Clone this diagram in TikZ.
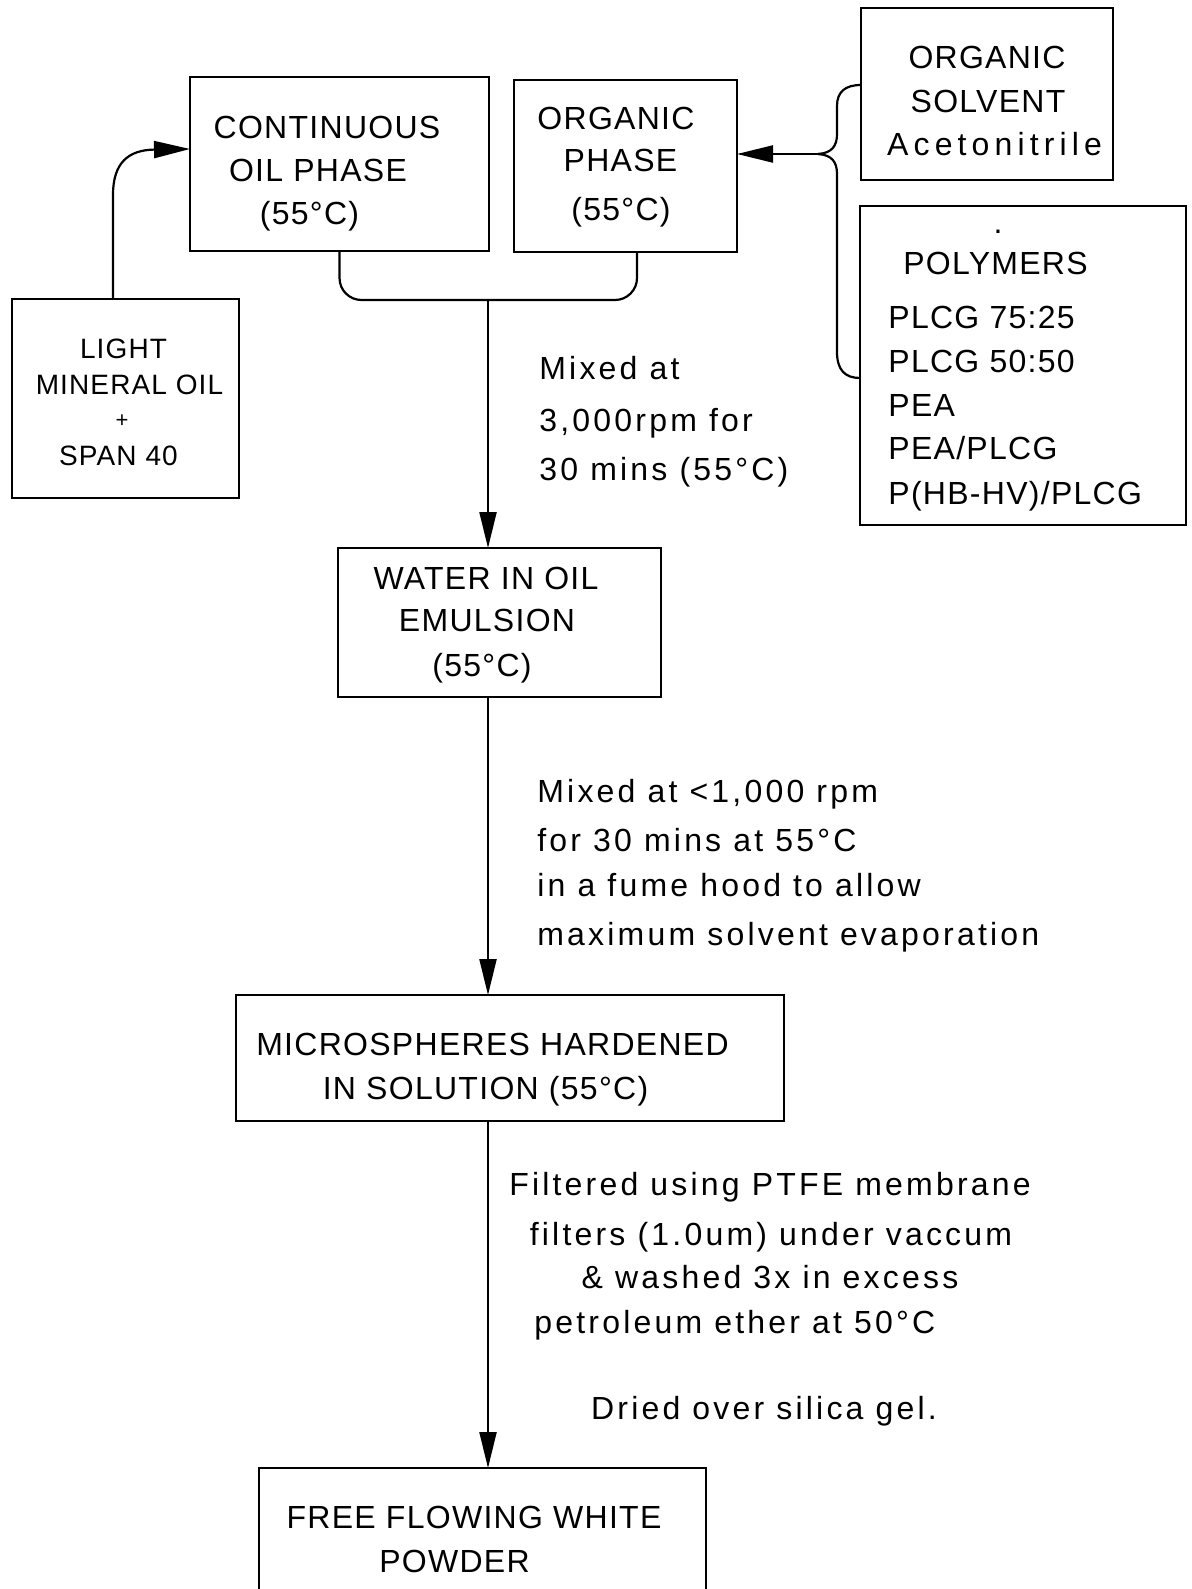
\documentclass[tikz,border=0pt]{standalone}
\usepackage{fontspec}
\setmainfont{Liberation Sans}[LetterSpace=4]
\newfontfamily\notefont{Liberation Sans}[LetterSpace=10]
\newfontfamily\widefont{Liberation Sans}[LetterSpace=16]
\usetikzlibrary{arrows.meta}
\begin{document}
\begin{tikzpicture}[x=0.5pt,y=-0.5pt,
  box/.style={draw,line width=1.4pt,inner sep=0pt,outer sep=0pt},
  conn/.style={line width=1.1pt},
  arr/.style={conn,-{Triangle[length=18pt,width=8.5pt]}},
  captxt/.style={font=\fontsize{16}{19}\selectfont,inner sep=0pt,anchor=base},
  captxtl/.style={captxt,anchor=base west},
  smalltxt/.style={font=\fontsize{14}{17}\selectfont,inner sep=0pt,anchor=base},
  notetxt/.style={font=\notefont\fontsize{16}{19}\selectfont,inner sep=0pt,anchor=base west},
  notetxtc/.style={font=\notefont\fontsize{16}{19}\selectfont,inner sep=0pt,anchor=base}]
\useasboundingbox (0,0) rectangle (1191,1589);
\fill[white] (0,0) rectangle (1191,1589);
\clip (0,0) rectangle (1191,1589);

% boxes
\node[box,minimum width=149.5pt,minimum height=87pt] (cont) at (339.5,164) {};
\node[box,minimum width=111.5pt,minimum height=86pt] (org) at (625.5,166) {};
\node[box,minimum width=126pt,minimum height=86pt] (solv) at (987,94) {};
\node[box,minimum width=163pt,minimum height=159.5pt] (poly) at (1023,365.5) {};
\node[box,minimum width=113.5pt,minimum height=99.5pt] (lmo) at (125.5,398.5) {};
\node[box,minimum width=161.5pt,minimum height=74.5pt] (water) at (499.5,622.5) {};
\node[box,minimum width=274pt,minimum height=63pt] (micro) at (510,1058) {};
\node[box,minimum width=223.5pt,minimum height=76pt] (powder) at (482.5,1544) {};

% box texts
\node[captxt] (c1) at (327,138.5) {CONTINUOUS};
\node[captxt] (c2) at (318,181.5) {OIL PHASE};
\node[captxt] (c3) at (309.5,224.5) {(55°C)};
\node[captxt] (o1) at (616,129.5) {ORGANIC};
\node[captxt] (o2) at (620.5,171.5) {PHASE};
\node[captxt] (o3) at (621,220.5) {(55°C)};
\node[captxt] (s1) at (987,68.5) {ORGANIC};
\node[captxt] (s2) at (988,112.5) {SOLVENT};
\node[captxt,font=\widefont\fontsize{16}{19}\selectfont] (s3) at (994.5,155.5) {Acetonitrile};
\node[captxt] (pdot) at (998,234) {.};
\node[captxt] (p0) at (995.5,274.5) {POLYMERS};
\node[captxtl] (p1) at (888,328.5) {PLCG 75:25};
\node[captxtl] (p2) at (888,372.5) {PLCG 50:50};
\node[captxtl] (p3) at (888,416.5) {PEA};
\node[captxtl] (p4) at (888,459.5) {PEA/PLCG};
\node[captxtl] (p5) at (888,504.5) {P(HB-HV)/PLCG};
\node[smalltxt] (l1) at (123.5,358) {LIGHT};
\node[smalltxt] (l2) at (129.5,394) {MINERAL OIL};
\node[smalltxt,font=\fontsize{11}{13}\selectfont] (l3) at (122,427) {+};
\node[smalltxt] (l4) at (118.5,465) {SPAN 40};
\node[captxt] (w1) at (486,589.5) {WATER IN OIL};
\node[captxt] (w2) at (487,631.5) {EMULSION};
\node[captxt] (w3) at (482,676.5) {(55°C)};
\node[captxt] (m1) at (492.5,1055.5) {MICROSPHERES HARDENED};
\node[captxt] (m2) at (485.5,1099.5) {IN SOLUTION (55°C)};
\node[captxt] (f1) at (474,1528.5) {FREE FLOWING WHITE};
\node[captxt] (f2) at (454.5,1572.5) {POWDER};

% notes
\node[notetxt] (n11) at (539,379) {Mixed at};
\node[notetxt] (n12) at (539,431) {3,000rpm for};
\node[notetxt] (n13) at (539,480) {30 mins (55°C)};
\node[notetxt] (n21) at (537,802) {Mixed at <1,000 rpm};
\node[notetxt] (n22) at (537,851) {for 30 mins at 55°C};
\node[notetxt] (n23) at (537,896) {in a fume hood to allow};
\node[notetxt] (n24) at (537,945) {maximum solvent evaporation};
\node[notetxtc] (n31) at (770,1195) {Filtered using PTFE membrane};
\node[notetxtc] (n32) at (771,1245) {filters (1.0um) under vaccum};
\node[notetxtc] (n33) at (770,1288) {\& washed 3x in excess};
\node[notetxt] (n34) at (534,1333) {petroleum ether at 50°C};
\node[notetxtc] (n35) at (764,1419) {Dried over silica gel.};

% coordinates
\coordinate (jn) at (488,300);
\coordinate (br) at (818,154);

% LMO -> continuous
\draw[arr] ([xshift=-6.25pt]lmo.north) -- (113,195) .. controls (113,163) and (128,150) .. ([yshift=7.5pt]cont.west);

% merge
\draw[conn,rounded corners=11pt] (cont.south) |- (jn) -| ([xshift=5.75pt]org.south);
\draw[arr] (jn) -- (water.north -| jn);
\draw[arr] (water.south -| jn) -- (micro.north -| jn);
\draw[arr] (micro.south -| jn) -- (powder.north -| jn);

% brace
\draw[arr] (br) -- (org.east |- br);
\draw[conn] (br) .. controls (832,153) and (837,146) .. (837,134) -- (837,106) .. controls (837,92) and (845,85) .. ([yshift=4.5pt]solv.west);
\draw[conn] (br) .. controls (832,155) and (837,162) .. (837,174) -- (837,352) .. controls (837,370) and (845,378) .. ([yshift=-6.25pt]poly.west);
\end{tikzpicture}
\end{document}
